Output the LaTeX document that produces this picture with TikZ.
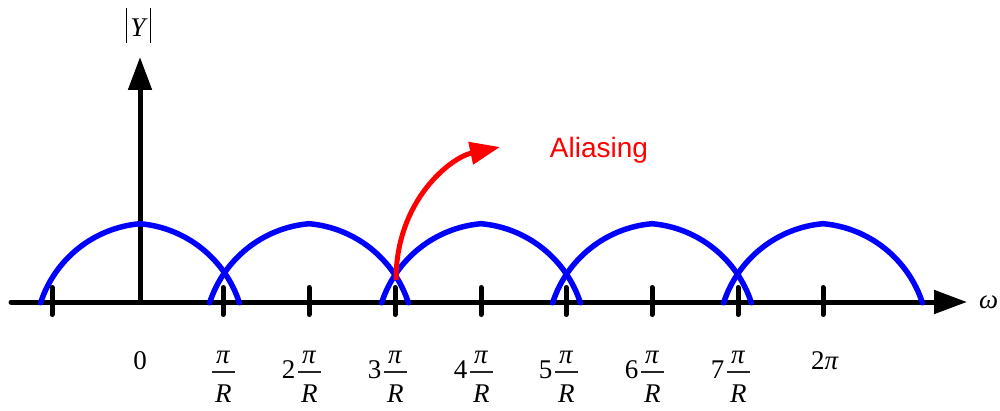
\documentclass[tikz,border=0pt]{standalone}
\usepackage{fontspec}
\setmainfont{Liberation Serif}
\newfontfamily\arialfont{Liberation Sans}
\usetikzlibrary{arrows.meta}
\tikzset{
  axisline/.style={line width=5pt, black, line cap=round},
  axisarrow/.style={-{Triangle[length=33pt,width=23pt]}},
  tickmark/.style={line width=5pt, black, line cap=round},
  spectrum/.style={line width=5.5pt, blue, line cap=round, line join=round},
  aliasarrow/.style={line width=5pt, red, -{Triangle[length=30pt,width=22pt]}},
  lab/.style={anchor=base, inner sep=0pt, font=\fontsize{27}{32}\selectfont},
  fracrule/.style={line width=1.3pt, black!85},
}
\begin{document}
\begin{tikzpicture}[x=1pt,y=1pt]
\useasboundingbox (0,0) rectangle (1000,410);
% axes
\coordinate (O) at (140,108);
\coordinate (xstart) at (11,108);
\coordinate (xend) at (967,108);
\coordinate (yend) at (140,353);
\draw[axisline,axisarrow] (xstart) -- (xend);
\draw[axisline,axisarrow] (O) -- (yend);
% ticks
\foreach \t in {52,223,309,395,481,566,652,738,823}{
  \draw[tickmark] (\t,95.5) -- (\t,122.5);
}
% spectral copies
\foreach \c in {140,309,481,652,823}{
  \draw[spectrum] (\c,186.3) arc[start angle=95,end angle=162,radius=115]
                  (\c,186.3) arc[start angle=85,end angle=18,radius=115];
}
% aliasing arrow
\coordinate (astart) at (396,130);
\coordinate (aend) at (500,263);
\draw[aliasarrow] (astart) .. controls (396,210) and (451,252.6) .. (aend);
\node[lab, text=red, font=\arialfont\fontsize{28}{33}\selectfont] (alias) at (599,252) {Aliasing};
% axis labels
\node[lab] (ylab) at (138.5,373)
  {\rule[-6pt]{1.1pt}{35pt}\kern3pt\textit{Y}\kern2pt\rule[-6pt]{1.1pt}{35pt}};
\node[lab, anchor=base west] (wlab) at (979,102) {\textit{ω}};
% tick labels
\node[lab] (l0) at (140,41) {0};
\foreach \x/\k in {223/1,309/2,395/3,481/4,566/5,652/6,738/7}{
  \node[lab] (num\k) at (\x+0.3,47) {\textit{π}};
  \draw[fracrule] (\x-11.3,38) -- (\x+11.9,38);
  \node[lab] (den\k) at (\x+0.3,8) {\textit{R}};
}
\foreach \x/\k in {309/2,395/3,481/4,566/5,652/6,738/7}{
  \node[lab, anchor=base east] (coef\k) at (\x-13.5,32) {\k};
}
\node[lab] (l8) at (825,41) {2\textit{π}};
\end{tikzpicture}
\end{document}
